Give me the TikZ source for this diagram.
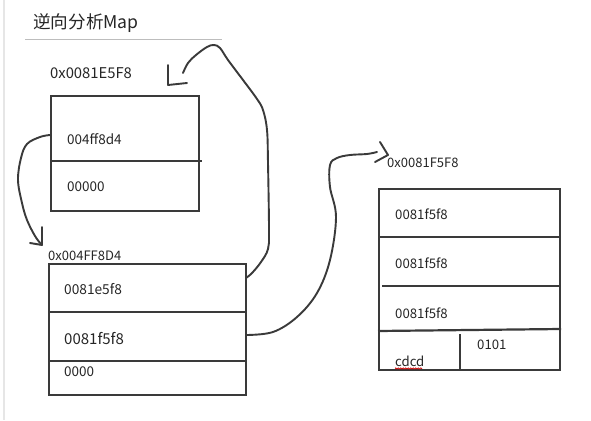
\documentclass[tikz,border=0pt]{standalone}
\usepackage{fontspec}
\setmainfont{Noto Sans CJK SC}
\usetikzlibrary{decorations.pathmorphing}
\definecolor{ink}{HTML}{3A3A3A}
\definecolor{txt}{HTML}{262626}
\definecolor{rule}{HTML}{BDBDBD}
\definecolor{edge}{HTML}{E6E6E6}
\tikzset{
  memframe/.style={draw=ink, line width=2.2pt, inner sep=0pt, anchor=north west},
  divider/.style={draw=ink, line width=2.2pt},
  hand/.style={draw=ink, line width=1.9pt, line cap=round, line join=round},
  celltext/.style={anchor=west, inner sep=0pt, text=txt, font=\fontsize{13.2}{15}\selectfont},
  addr/.style={anchor=west, inner sep=0pt, text=txt, font=\fontsize{13}{15}\selectfont},
}
\begin{document}
\begin{tikzpicture}[x=1pt,y=-1pt]
\useasboundingbox[fill=white] (0,0) rectangle (591,420);
% left edge and title
\draw[edge, line width=1.5pt] (4,0) -- (4,420);
\node[anchor=west, inner sep=0pt, text=txt, font=\fontsize{17.6}{21}\selectfont] (title) at (33,23) {逆向分析Map};
\draw[rule, line width=1pt] (25,40) -- (222,40);

% box 1
\node[addr, font=\fontsize{14.8}{17}\selectfont] (lblA) at (50,73) {0x0081E5F8};
\node[memframe, minimum width=148pt, minimum height=115pt] (box1) at (50,95) {};
\draw[divider] (50,161) -- (202,161);
\node[celltext, font=\fontsize{13.5}{16}\selectfont] (a1) at (67,139) {004ff8d4};
\node[celltext, font=\fontsize{13.5}{16}\selectfont] (a2) at (67,187) {00000};

% box 2
\node[addr] (lblB) at (48,256) {0x004FF8D4};
\node[memframe, minimum width=197pt, minimum height=131pt] (box2) at (48,263) {};
\draw[divider] (48,312) -- (247,312);
\draw[divider] (48,361) -- (245,361);
\node[celltext, font=\fontsize{13.7}{16}\selectfont] (b1) at (64,289) {0081e5f8};
\node[celltext, font=\fontsize{15}{18}\selectfont] (b2) at (64,339) {0081f5f8};
\node[celltext, font=\fontsize{13.5}{16}\selectfont] (b3) at (64,372) {0000};

% box 3
\node[addr] (lblC) at (387,163) {0x0081F5F8};
\node[memframe, minimum width=181pt, minimum height=181pt] (box3) at (378,188) {};
\draw[divider] (378,237) -- (559,237);
\draw[divider] (382,286) -- (559,286);
\draw[divider] (378,331) -- (561,329);
\draw[divider] (460,334) -- (460,371);
\node[celltext] (c1) at (395,214) {0081f5f8};
\node[celltext] (c2) at (395,263) {0081f5f8};
\node[celltext] (c3) at (395,313) {0081f5f8};
\node[celltext] (c4) at (477,345) {0101};
\node[celltext] (c5) at (395,361) {cdcd};
\draw[red!80!black, line width=0.7pt, decorate, decoration={snake, amplitude=0.7pt, segment length=2.5pt}] (395,368.5) -- (422,368.5);

% connector: box1 -> label B
\coordinate (s1) at (50,135);
\coordinate (e1) at (41,244);
\draw[hand] plot[smooth, tension=0.6] coordinates {(s1) (40,137) (27,144) (21,158) (18,180) (22,203) (27,220) (35,236) (e1)};
\draw[hand] (42,227) -- (42,245) -- (30,243);

% connector: box2 row1 -> label A
\coordinate (s2) at (246,278);
\coordinate (e2) at (183,73);
\draw[hand] plot[smooth, tension=0.6] coordinates {(s2) (252,273) (261,262) (268,249) (269,230) (268,163) (267,130) (263,110) (257,99) (243,80) (228,60) (220,48) (214,45) (207,47) (196,55) (188,63) (e2)};
\draw[hand] (168,65) -- (168,85) -- (187,83);

% connector: box2 row2 -> label C
\coordinate (s3) at (246,335);
\coordinate (e3) at (377,152);
\draw[hand] plot[smooth, tension=0.6] coordinates {(s3) (273,332) (297,317) (317,293) (330,260) (336,217) (330,187) (330,165) (337,158) (350,155) (367,154) (e3)};
\draw[hand] (380,142) -- (388,155) -- (375,162);
\end{tikzpicture}
\end{document}
